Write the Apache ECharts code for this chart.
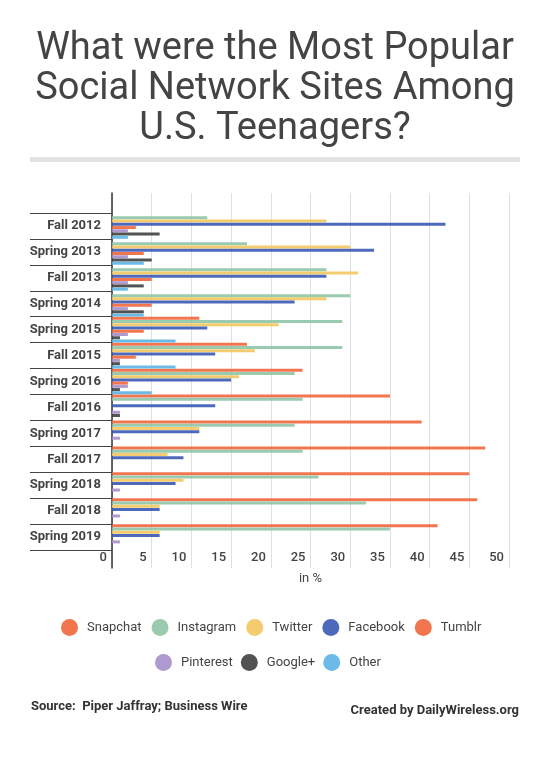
<!DOCTYPE html>
<html>
<head>
<meta charset="utf-8">
<script src="https://cdn.jsdelivr.net/npm/echarts@6/dist/echarts.min.js"></script>
<style>
html,body{margin:0;padding:0;background:#fff;}
#chart{width:550px;height:775px;}
</style>
</head>
<body>
<div id="chart"></div>
<script>
const categories = ['Fall 2012','Spring 2013','Fall 2013','Spring 2014','Spring 2015','Fall 2015','Spring 2016','Fall 2016','Spring 2017','Fall 2017','Spring 2018','Fall 2018','Spring 2019'];
const snapchat   = [0, 0, 0, 0, 11, 17, 24, 35, 39, 47, 45, 46, 41];
const instagram  = [12, 17, 27, 30, 29, 29, 23, 24, 23, 24, 26, 32, 35];
const twitter    = [27, 30, 31, 27, 21, 18, 16, 0, 11, 7, 9, 6, 6];
const facebook   = [42, 33, 27, 23, 12, 13, 15, 13, 11, 9, 8, 6, 6];
const tumblr     = [3, 4, 5, 5, 4, 3, 2, 0, 0, 0, 0, 0, 0];
const pinterest  = [2, 2, 2, 2, 2, 1, 2, 1, 1, 0, 1, 1, 1];
const googleplus = [6, 5, 4, 4, 1, 1, 1, 1, 0, 0, 0, 0, 0];
const other      = [2, 4, 2, 4, 8, 8, 5, 0, 0, 0, 0, 0, 0];
const xTicks = [0, 5, 10, 15, 20, 25, 30, 35, 40, 45, 50];

const seriesNames = ['Snapchat','Instagram','Twitter','Facebook','Tumblr','Pinterest','Google+','Other'];
const seriesData = [snapchat, instagram, twitter, facebook, tumblr, pinterest, googleplus, other];
const colors = ['#f0673c','#8fc4a6','#f1c65e','#3a59b4','#f0673c','#a58fc9','#3f3f3f','#5cb2e4'];

const font = 'Roboto, "Noto Sans", sans-serif';
const chart = echarts.init(document.getElementById('chart'), null, {renderer:'canvas'});

const series = seriesNames.map((n, i) => ({
  name: n,
  type: 'bar',
  xAxisIndex: 0,
  yAxisIndex: 0,
  data: seriesData[i],
  barWidth: 3,
  barGap: '8%',
  itemStyle: {color: colors[i], opacity: 0.9},
  emphasis: {disabled: true}
}));

const legendText = {fontFamily: font, fontSize: 13, color: '#444', padding: [0, 0, 0, 4]};

chart.setOption({
  backgroundColor: '#fff',
  animation: false,
  color: colors,
  graphic: [
    {type: 'text', x: 275, y: 29, style: {
      text: 'What were the Most Popular\nSocial Network Sites Among\nU.S. Teenagers?',
      align: 'center', verticalAlign: 'top', lineHeight: 40,
      font: '400 38px Roboto, "Noto Sans", sans-serif', fill: '#444'}},
    {type: 'rect', shape: {x: 30, y: 157, width: 490, height: 5}, style: {fill: '#e3e3e3'}},
    {type: 'text', x: 31, y: 707, style: {text: 'Source:  Piper Jaffray; Business Wire', align: 'left', verticalAlign: 'middle', font: 'bold 13px Roboto, sans-serif', fill: '#333'}},
    {type: 'text', x: 519, y: 711, style: {text: 'Created by DailyWireless.org', align: 'right', verticalAlign: 'middle', font: 'bold 13px Roboto, sans-serif', fill: '#333'}}
  ],
  legend: [
    {
      data: seriesNames.slice(0, 5),
      left: 56, top: 614,
      icon: 'circle', itemWidth: 17, itemHeight: 17, itemGap: 10,
      textStyle: legendText,
      selectedMode: false
    },
    {
      data: seriesNames.slice(5),
      left: 150, top: 649,
      icon: 'circle', itemWidth: 17, itemHeight: 17, itemGap: 8,
      textStyle: legendText,
      selectedMode: false
    }
  ],
  grid: [
    {left: 112, right: 41, top: 213, height: 337, containLabel: false},
    {left: 112, right: 41, top: 193, bottom: 207, containLabel: false}
  ],
  xAxis: [
    {gridIndex: 0, type: 'value', min: 0, max: 50, interval: 5, show: false},
    {
      gridIndex: 1, type: 'value', min: xTicks[0], max: xTicks[xTicks.length-1], interval: 5,
      axisLine: {show: false}, axisTick: {show: false},
      splitLine: {show: true, lineStyle: {color: '#e0e0e0', width: 1}},
      axisLabel: {inside: true, margin: 4, align: 'right', padding: [0, 5, 0, 0],
        fontFamily: font, fontSize: 13, fontWeight: 500, color: '#444'},
      name: 'in %', nameLocation: 'middle', nameGap: 4,
      nameTextStyle: {fontFamily: font, fontSize: 13, color: '#444', verticalAlign: 'top'}
    }
  ],
  yAxis: [
    {
      gridIndex: 0, type: 'category', inverse: true, data: categories,
      axisLine: {show: false},
      axisTick: {show: true, length: 82, lineStyle: {color: '#444', width: 1}},
      axisLabel: {margin: 11, fontFamily: font, fontSize: 13, fontWeight: 'bold', color: '#444'},
      splitLine: {show: false}
    },
    {
      gridIndex: 1, type: 'value', min: 0, max: 1,
      axisLine: {show: true, onZero: false, lineStyle: {color: '#333', width: 1.5}},
      axisTick: {show: false}, axisLabel: {show: false}, splitLine: {show: false}
    }
  ],
  series: series
});
</script>
</body>
</html>
